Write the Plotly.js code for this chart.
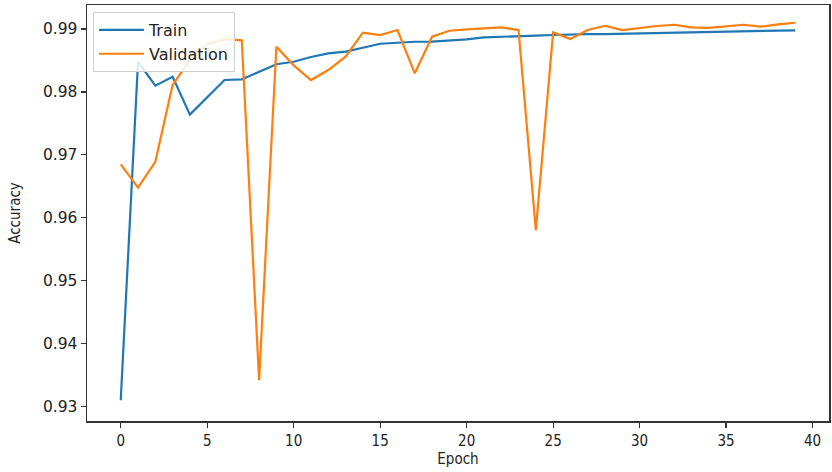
<!DOCTYPE html>
<html>
<head>
<meta charset="utf-8">
<script src="https://cdn.plot.ly/plotly-3.0.1.min.js"></script>
<style>html,body{margin:0;padding:0;background:#fff;}#chart{width:832px;height:472px;}</style>
</head>
<body>
<div id="chart"></div>
<script>
const epochs = [];
for (let i = 0; i < 40; i++) epochs.push(i);

const trainAcc = [0.9310, 0.9848, 0.9810, 0.9824, 0.9764, 0.9792, 0.9819, 0.9820, 0.9832, 0.9844,
  0.9848, 0.98555, 0.98613, 0.9864, 0.98703, 0.98766, 0.98782, 0.98798, 0.9880, 0.98814,
  0.98836, 0.98868, 0.98873, 0.98878, 0.98894, 0.98905, 0.98916, 0.9892, 0.9892, 0.98925,
  0.9893, 0.98935, 0.9894, 0.98945, 0.9895, 0.98955, 0.9896, 0.98965, 0.9897, 0.9898];

const valAcc = [0.9685, 0.9648, 0.9689, 0.9811, 0.9851, 0.9876, 0.9884, 0.9882, 0.9342, 0.9872,
  0.98423, 0.98189, 0.98348, 0.9856, 0.98942, 0.98905, 0.98984, 0.98296, 0.98878, 0.98973,
  0.98995, 0.9901, 0.99026, 0.98984, 0.95804, 0.98947, 0.98841, 0.98984, 0.99052, 0.98984,
  0.99016, 0.99048, 0.99068, 0.99026, 0.9902, 0.99048, 0.99068, 0.99037, 0.99075, 0.9910];

const xTicks = [0, 5, 10, 15, 20, 25, 30, 35, 40];
const yTicks = [0.93, 0.94, 0.95, 0.96, 0.97, 0.98, 0.99];

const traces = [
  {x: epochs, y: trainAcc, name: 'Train', type: 'scatter', mode: 'lines',
   line: {color: '#1f77b4', width: 2.2}},
  {x: epochs, y: valAcc, name: 'Validation', type: 'scatter', mode: 'lines',
   line: {color: '#ff7f0e', width: 2.2}}
];

const axisCommon = {
  showgrid: false, zeroline: false, showline: true, mirror: true,
  linecolor: '#333', linewidth: 1.5, ticks: 'outside', ticklen: 5, tickwidth: 1.2, tickcolor: '#333'
};

const layout = {
  width: 832, height: 472,
  margin: {l: 87, r: 3, t: 5, b: 51},
  paper_bgcolor: '#fff', plot_bgcolor: '#fff',
  showlegend: true,
  legend: {x: 0.008, y: 0.983, xanchor: 'left', yanchor: 'top',
    bgcolor: 'rgba(255,255,255,0.85)', bordercolor: '#d0d0d0', borderwidth: 1,
    font: {family: 'DejaVu Sans', size: 16, color: '#222'}, tracegroupgap: 0, itemwidth: 45},
  xaxis: Object.assign({}, axisCommon, {
    range: [-1.95, 40.95], tickvals: xTicks, ticktext: xTicks.map(String),
    tickfont: {family: 'DejaVu Sans Condensed, DejaVu Sans', size: 15, color: '#222'},
    title: {text: 'Epoch', font: {family: 'DejaVu Sans Condensed, DejaVu Sans', size: 15, color: '#222'}, standoff: 4}
  }),
  yaxis: Object.assign({}, axisCommon, {
    range: [0.9277, 0.99382], tickvals: yTicks, ticktext: yTicks.map(v => v.toFixed(2)),
    tickfont: {family: 'DejaVu Sans', size: 15.5, color: '#222'},
    title: {text: 'Accuracy', font: {family: 'DejaVu Sans Condensed, DejaVu Sans', size: 15, color: '#222'}, standoff: 18}
  })
};

Plotly.newPlot('chart', traces, layout, {displayModeBar: false, staticPlot: true});
</script>
</body>
</html>
